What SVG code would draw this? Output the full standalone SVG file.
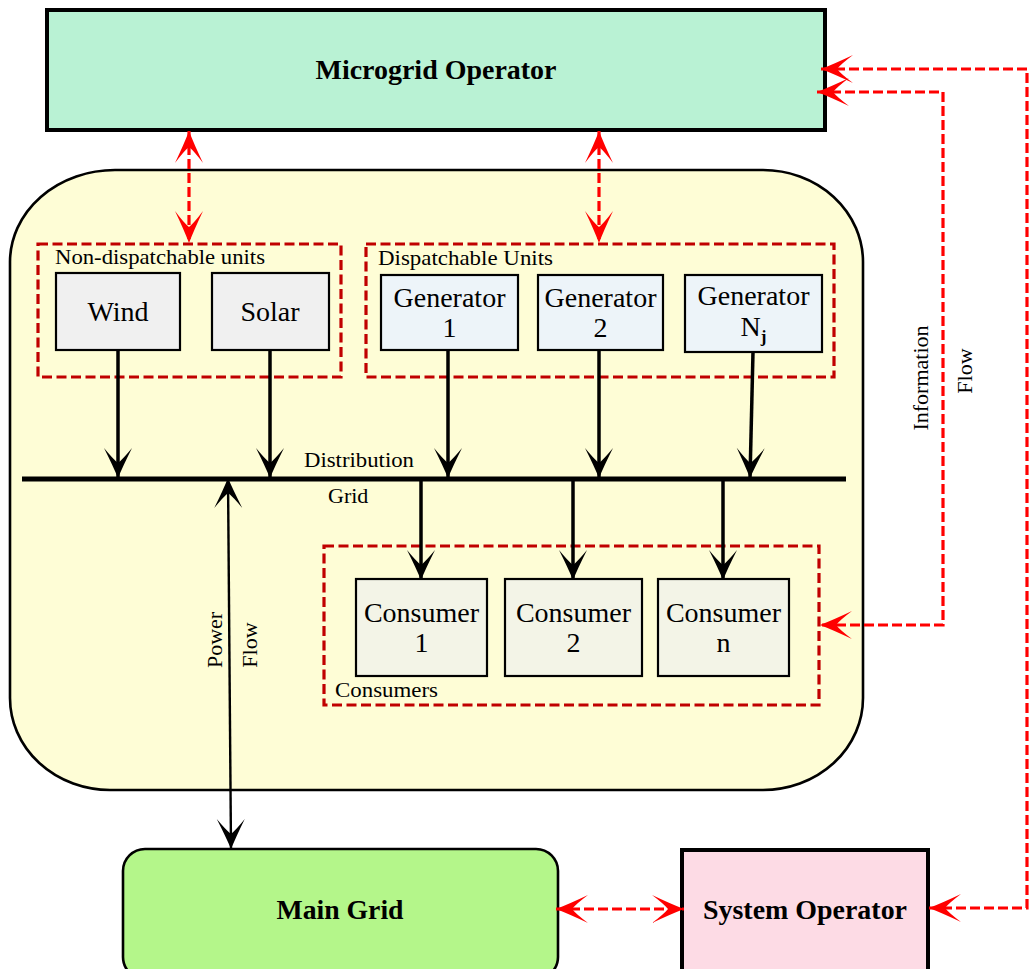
<svg xmlns="http://www.w3.org/2000/svg" width="1031" height="969" viewBox="0 0 1031 969">
  <style>
    .t { font-family: "Liberation Serif", "Times New Roman", serif; fill: #000; }
    .title { font-size: 27px; font-weight: bold; text-anchor: middle; }
    .node { font-size: 28px; text-anchor: middle; }
    .lbl { font-size: 22px; }
    .vlbl { font-size: 22px; text-anchor: middle; }
    .unit { stroke: #000; stroke-width: 2.2; }
    .group { fill: none; stroke: #c00000; stroke-width: 3.2; stroke-dasharray: 10 4.5; }
    .power { fill: none; stroke: #000; stroke-width: 3.5; marker-end: url(#ahb); }
    .info { fill: none; stroke: #ff0000; stroke-width: 3.2; stroke-dasharray: 10 4; marker-start: url(#ahr); marker-end: url(#ahr); }
  </style>
  <defs>
    <marker id="ahb" markerUnits="userSpaceOnUse" viewBox="-32 -16 34 32" markerWidth="34" markerHeight="32" refX="0" refY="0" orient="auto-start-reverse" overflow="visible">
      <path d="M0,0 Q-12,-5 -30,-14 Q-19,-5 -15,0 Q-19,5 -30,14 Q-12,5 0,0 Z" fill="#000"/>
    </marker>
    <marker id="ahr" markerUnits="userSpaceOnUse" viewBox="-34 -16 36 32" markerWidth="36" markerHeight="32" refX="0" refY="0" orient="auto-start-reverse" overflow="visible">
      <path d="M0,0 Q-13,-5 -32,-14 Q-20,-5 -16,0 Q-20,5 -32,14 Q-13,5 0,0 Z" fill="#ff0000"/>
    </marker>
  </defs>

  <!-- Microgrid boundary -->
  <g id="microgrid">
    <path d="M115,170 H763 A100,92 0 0 1 863,262 V698 A100,92 0 0 1 763,790 H110 A100,92 0 0 1 10,698 V262 A105,92 0 0 1 115,170 Z" fill="#fefdd6" stroke="#000" stroke-width="2.6"/>
  </g>

  <!-- Operators and main grid -->
  <g id="microgrid-operator">
    <rect x="47" y="10" width="778" height="120" fill="#b9f2d4" stroke="#000" stroke-width="4"/>
    <text class="t title" x="436" y="79" textLength="241" lengthAdjust="spacingAndGlyphs">Microgrid Operator</text>
  </g>
  <g id="main-grid">
    <rect x="123" y="849" width="435" height="130" rx="22" fill="#b4f68a" stroke="#000" stroke-width="2.6"/>
    <text class="t title" x="340" y="919" textLength="127" lengthAdjust="spacingAndGlyphs">Main Grid</text>
  </g>
  <g id="system-operator">
    <rect x="682" y="850" width="246" height="130" fill="#fddbe5" stroke="#000" stroke-width="4"/>
    <text class="t title" x="805" y="919" textLength="204" lengthAdjust="spacingAndGlyphs">System Operator</text>
  </g>

  <!-- Unit groups -->
  <g id="non-dispatchable">
    <rect class="group" x="38" y="244" width="303" height="133"/>
    <text class="t lbl" x="55" y="264" textLength="210" lengthAdjust="spacingAndGlyphs">Non-dispatchable units</text>
  </g>
  <g id="dispatchable">
    <rect class="group" x="366" y="244" width="468" height="133"/>
    <text class="t lbl" x="378" y="265" textLength="175" lengthAdjust="spacingAndGlyphs">Dispatchable Units</text>
  </g>
  <g id="consumers">
    <rect class="group" x="324" y="546" width="495" height="159"/>
    <text class="t lbl" x="335" y="697" textLength="103" lengthAdjust="spacingAndGlyphs">Consumers</text>
  </g>

  <g id="wind">
    <rect class="unit" x="56" y="273" width="124" height="77" fill="#f0f0f0"/>
    <text class="t node" x="118" y="321">Wind</text>
  </g>
  <g id="solar">
    <rect class="unit" x="212" y="273" width="117" height="77" fill="#f0f0f0"/>
    <text class="t node" x="270" y="321">Solar</text>
  </g>
  <g id="generator-1">
    <rect class="unit" x="381" y="275" width="137" height="75" fill="#edf4f9"/>
    <text class="t node" x="449.5" y="307">Generator</text>
    <text class="t node" x="449.5" y="337">1</text>
  </g>
  <g id="generator-2">
    <rect class="unit" x="538" y="275" width="125" height="75" fill="#edf4f9"/>
    <text class="t node" x="600.5" y="307">Generator</text>
    <text class="t node" x="600.5" y="337">2</text>
  </g>
  <g id="generator-nj">
    <rect class="unit" x="685" y="275" width="137" height="77" fill="#edf4f9"/>
    <text class="t node" x="753.5" y="305">Generator</text>
    <text class="t node" x="753.5" y="336">N<tspan font-size="17" font-weight="bold" dy="6">j</tspan></text>
  </g>

  <g id="consumer-1">
    <rect class="unit" x="356" y="579" width="131" height="97" fill="#f3f4e7"/>
    <text class="t node" x="421.5" y="622">Consumer</text>
    <text class="t node" x="421.5" y="652">1</text>
  </g>
  <g id="consumer-2">
    <rect class="unit" x="505" y="579" width="137" height="97" fill="#f3f4e7"/>
    <text class="t node" x="573.5" y="622">Consumer</text>
    <text class="t node" x="573.5" y="652">2</text>
  </g>
  <g id="consumer-n">
    <rect class="unit" x="658" y="579" width="131" height="97" fill="#f3f4e7"/>
    <text class="t node" x="723.5" y="622">Consumer</text>
    <text class="t node" x="723.5" y="652">n</text>
  </g>

  <!-- Distribution bus -->
  <g id="distribution-grid">
    <line x1="22" y1="479" x2="846" y2="479" stroke="#000" stroke-width="5"/>
    <text class="t lbl" x="304" y="467" textLength="110" lengthAdjust="spacingAndGlyphs">Distribution</text>
    <text class="t lbl" x="328" y="503">Grid</text>
  </g>

  <!-- Connectors -->
  <g id="connectors">
    <!-- generation into the bus -->
    <path class="power" d="M118,350 V478"/>
    <path class="power" d="M270,350 V478"/>
    <path class="power" d="M448,350 V478"/>
    <path class="power" d="M599,350 V478"/>
    <path class="power" d="M753,352 L750,478"/>
    <!-- bus to consumers -->
    <path class="power" d="M421,479 V580"/>
    <path class="power" d="M573,479 V580"/>
    <path class="power" d="M723,479 V580"/>
    <!-- exchange with the main grid -->
    <path d="M228,478 L231,849" fill="none" stroke="#000" stroke-width="2.4" marker-start="url(#ahb)" marker-end="url(#ahb)"/>

    <!-- information flow -->
    <path class="info" d="M189,131 V243"/>
    <path class="info" d="M599,131 V243"/>
    <path class="info" d="M821,69 H1027 V908 H929" stroke-width="2.4" stroke-dasharray="9 4"/>
    <path class="info" d="M817,92 H943 V625 H820"/>
    <path class="info" d="M556,909 H684" stroke-width="3.6"/>
  </g>

  <!-- Flow labels -->
  <g id="flow-labels">
    <text class="t vlbl" transform="translate(222,640) rotate(-90)">Power</text>
    <text class="t vlbl" transform="translate(257,645) rotate(-90)">Flow</text>
    <text class="t vlbl" transform="translate(928,378) rotate(-90)">Information</text>
    <text class="t vlbl" transform="translate(972,371) rotate(-90)">Flow</text>
  </g>
</svg>
